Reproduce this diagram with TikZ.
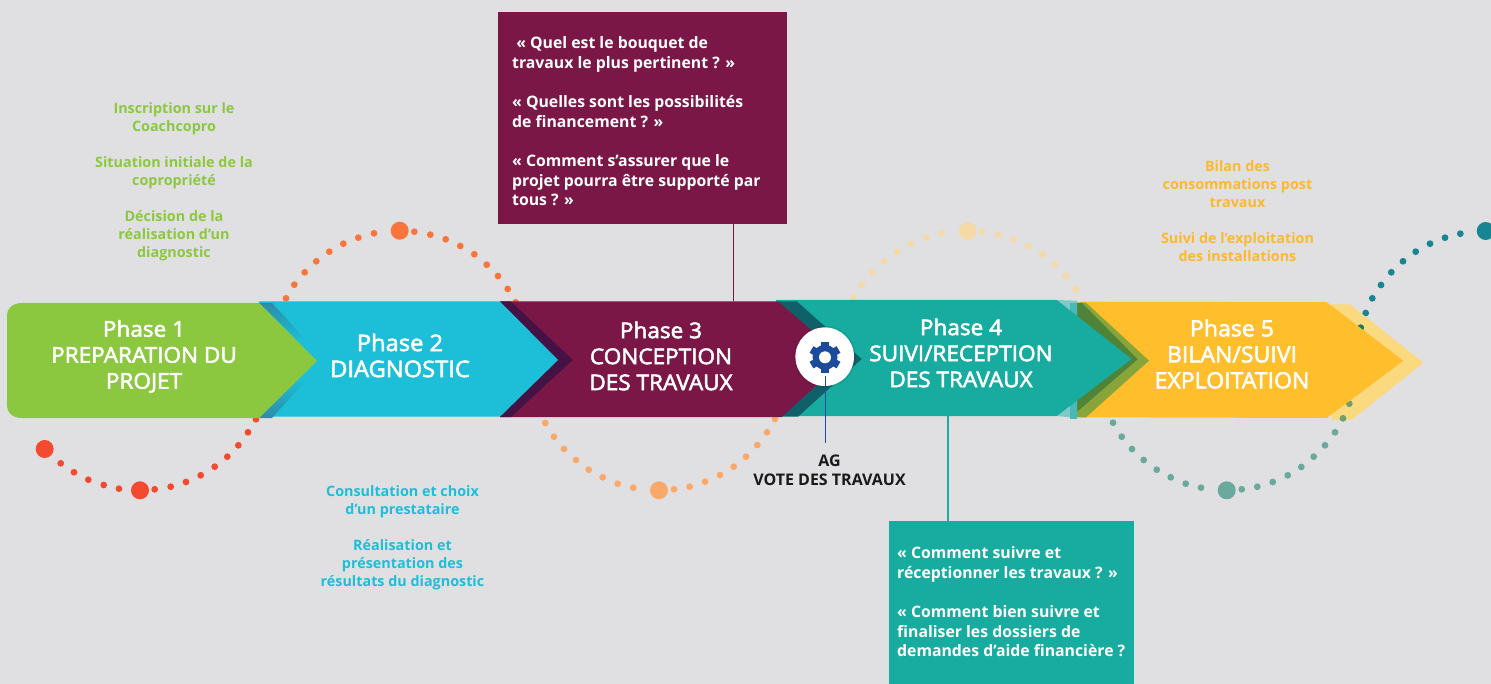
\documentclass[tikz,border=0pt]{standalone}
\usepackage{fontspec}
\setmainfont{Open Sans}
\newfontfamily\medi[FakeBold=2.5,FakeStretch=1.04]{Open Sans}
\definecolor{bgc}{HTML}{E0E0E2}
\definecolor{cgreen}{HTML}{8CC83F}
\definecolor{cblue}{HTML}{1CBED8}
\definecolor{cmaroon}{HTML}{7B1746}
\definecolor{cteal}{HTML}{17AC9F}
\definecolor{cyellow}{HTML}{FFBE2B}
\definecolor{cpale}{HTML}{FBD97F}
\definecolor{cpurple}{HTML}{451245}
\definecolor{cdteal}{HTML}{0F6068}
\definecolor{colive}{HTML}{87A53A}
\definecolor{cdgreen}{HTML}{4F8438}
\definecolor{cpteal}{HTML}{7CCBC6}
\definecolor{cmteal}{HTML}{4AB8B4}
\definecolor{cbshade}{HTML}{2E8BA6}
\definecolor{gearblue}{HTML}{1C4A9C}
\definecolor{dred}{HTML}{F44A2F}
\definecolor{dorange}{HTML}{FA753C}
\definecolor{dlorange}{HTML}{FBA96A}
\definecolor{dpale}{HTML}{F5D9A6}
\definecolor{dgrey}{HTML}{6AA99C}
\definecolor{dteal}{HTML}{178692}
\definecolor{tyellow}{HTML}{FBB92F}
\definecolor{dtintg}{HTML}{6F9F6C}
\definecolor{dtintt}{HTML}{0C7A6C}
\tikzset{
  phase/.style={text=white,align=center,inner sep=0pt,font=\medi\fontsize{21.7}{26}\selectfont},
  side/.style={align=center,inner sep=0pt,font=\bfseries\fontsize{14.35}{18}\selectfont},
  quest/.style={text=white,align=left,inner sep=0pt,anchor=west,font=\bfseries\fontsize{15.8}{19.6}\selectfont},
  qbox/.style={anchor=north west,inner sep=0pt,minimum width=#1},
}
\begin{document}
\begin{tikzpicture}[x=1pt,y=-1pt]
\useasboundingbox (0,0) rectangle (1491,684);
\fill[bgc] (0,0) rectangle (1491,684);
% dots
\foreach \x/\y in {60.7/463.3,74/472.3,88.3/479.7,103.7/485,119/488.7,154.7/489.3,170.7/486.7,186/482,200.7/475.3,214.7/466.7,227.3/456.7,238.3/445.3,248/432.3,256/419.3}
  \fill[dred] (\x,\y) circle[radius=3.4pt];
\fill[dred] (44.7,449) circle[radius=9pt] (140,490.3) circle[radius=9pt];
\foreach \x/\y in {286/298.3,294.3/284.7,304.7/272.3,316.3/261.3,329.3/251.7,343.3/243.7,358.3/237.7,374/233.3,414.3/231.7,430.3/234.7,445.7/239.3,460.3/246,474.3/254.3,486.7/264.7,498/276,507.7/289,515.7/302.3}
  \fill[dorange] (\x,\y) circle[radius=3.4pt];
\fill[dorange] (399.7,230.7) circle[radius=9pt];
\foreach \x/\y in {545.3/423,554/436.7,564/449,576/460,588.7/469.7,602.7/477.3,617.7/483.7,633.3/487.7,674/489.3,689.7/486.7,705/481.7,720/475,733.7/466.7,746/456.7,757.3/445,767/432.3,775/419}
  \fill[dlorange] (\x,\y) circle[radius=3.4pt];
\fill[dlorange] (659,490.3) circle[radius=9pt];
\foreach \x/\y in {853.3/297.7,862/284.7,872.3/272.3,884.3/261.3,897/251.7,911/243.7,926.3/237.7,941.7/233.3,982.3/231.7,998/234.7,1013.3/239.3,1028.3/246,1042/254.3,1054.7/264.7,1065.7/276,1075.7/289}
  \fill[dpale] (\x,\y) circle[radius=3.4pt];
\fill[dpale] (967.7,231) circle[radius=9pt];
\foreach \x/\y in {1113/422.7,1121.7/436.7,1132/449,1143.7/460,1156.7/469.7,1170.7/477.3,1185.7/483.7,1201/487.7,1241.7/489.3,1257.3/486.7,1272.7/482,1287.7/475.3,1301.3/467,1313.7/456.7,1325/445.3,1335/432.3}
  \fill[dgrey] (\x,\y) circle[radius=3.4pt];
\fill[dgrey] (1226.7,490.3) circle[radius=9pt];
\foreach \x/\y in {1365.7/313,1372.3/298.3,1381/285,1391.3/272.3,1403/261.3,1415.7/251.7,1430/243.7,1445/237.7,1460.3/233.7}
  \fill[dteal] (\x,\y) circle[radius=3.4pt];
\fill[dteal] (1485.7,231) circle[radius=9pt];
% phase 5 arrow
\fill[cpale] (1331.7,304.3) -- (1350,304.3) -- (1423.3,362.7) -- (1351.7,420) -- (1331.7,420) -- cycle;
\fill[dtintg] (1343,418.3) circle[radius=3.4pt] (1349.3,403.7) circle[radius=3.4pt];
\fill[dtintt] (1360.7,327.7) circle[radius=3.4pt];
\fill[cyellow] (1080,301.7) -- (1326.7,302.2) -- (1403.3,360.7) -- (1326.7,418) -- (1080,417.3) -- cycle;
\fill[colive] (1077,302.7) -- (1086,302.7) -- (1149,360.7) -- (1086,417.3) -- (1077,417.3) -- cycle;
\fill[cdgreen] (1077,303) -- (1082,303) -- (1137.7,359.3) -- (1077,411.7) -- cycle;
% phase 4 arrow
\fill[cpteal] (1056.7,300) -- (1077,300.7) -- (1077,418) -- (1056.7,416) -- cycle;
\fill[cmteal] (1070,303) -- (1077,303) -- (1077,418.5) -- (1070,418.5) -- cycle;
\fill[cteal] (776,300) -- (1056.7,300) -- (1131.7,359) -- (1056.7,416) -- (776,416) -- cycle;
\fill[cdteal] (778,301.5) -- (797,301.5) -- (861.7,359) -- (798,416.7) -- (781.7,416.7) -- cycle;
% phase 3 arrow
\fill[cmaroon] (500,301.5) -- (778,301.5) -- (845,359) -- (781.7,417) -- (500,417) -- cycle;
\fill[cpurple] (500,301.5) -- (511,301.5) -- (572.7,360) -- (511,417) -- (500,417) -- cycle;
% phase 2 arrow
\fill[cblue] (259,301.5) -- (500,301.5) -- (558,360) -- (500,416.7) -- (259,416.7) -- cycle;
\shade[top color=cbshade,bottom color=cblue] (259,303) -- (272,303) -- (306,340) -- (298,340) -- cycle;
\shade[top color=cblue,bottom color=cbshade] (298,380) -- (306,380) -- (272,418) -- (259,418) -- cycle;
% phase 1 arrow
\fill[cgreen] (22,303) -- (259,303) -- (317,361) -- (259,418) -- (22,418) .. controls (12,418) and (7,412) .. (7,406) -- (7,315) .. controls (7,309) and (12,303) .. (22,303) -- cycle;
% text
\node[phase] (ph1) at (144,356.5) {Phase 1\\PREPARATION DU\\PROJET};
\node[phase,font=\medi\fontsize{22.8}{26}\selectfont] (ph2) at (400,355.5) {Phase 2\\DIAGNOSTIC};
\node[phase] (ph3) at (661,356) {Phase 3\\CONCEPTION\\DES TRAVAUX};
\node[phase] (ph4) at (961,353) {Phase 4\\SUIVI/RECEPTION\\DES TRAVAUX};
\node[phase,font=\medi\fontsize{22.2}{26}\selectfont] (ph5) at (1232,354) {Phase 5\\BILAN/SUIVI\\EXPLOITATION};
\node[side,text=cgreen] (tgreen) at (174,182) {Inscription sur le\\Coachcopro\\[18pt]Situation initiale de la\\copropriété\\[18pt]Décision de la\\réalisation d’un\\diagnostic};
\node[side,text=cblue] (tblue) at (402.5,537.5) {Consultation et choix\\d’un prestataire\\[18pt]Réalisation et\\présentation des\\résultats du diagnostic};
\node[side,text=tyellow] (tyellow) at (1237.5,211.5) {Bilan des\\consommations post\\travaux\\[18pt]Suivi de l’exploitation\\des installations};
% question boxes
\node[qbox=289pt,minimum height=212pt,fill=cmaroon] (mbox) at (498,12) {};
\node[qbox=245pt,minimum height=163pt,fill=cteal] (tbox) at (889,521) {};
\node[quest] (mtext) at (512,121.5) {\ « Quel est le bouquet de\\travaux le plus pertinent ? »\\[19.6pt]« Quelles sont les possibilités\\de financement ? »\\[19.6pt]« Comment s’assurer que le\\projet pourra être supporté par\\tous ? »};
\node[quest] (ttext) at (897,602) {« Comment suivre et\\réceptionner les travaux ? »\\[19.6pt]« Comment bien suivre et\\finaliser les dossiers de\\demandes d’aide financière ?};
% connectors
\coordinate (p3top) at (733.5,301.5);
\coordinate (p4bot) at (948,416);
\draw[cmaroon,line width=1.2pt] (mbox.south -| p3top) -- (p3top);
\draw[cteal,line width=1.4pt] (p4bot) -- (p4bot |- tbox.north);
% gear
\fill[black,opacity=.07] (824.7,357) circle[radius=31pt];
\node[circle,fill=white,minimum size=58.6pt,inner sep=0pt] (gear) at (824.7,356.7) {};
\fill[gearblue] (825,357.3) circle[radius=12.5pt];
\foreach \a in {30,90,...,330}
  \draw[gearblue,line width=7.6pt] (825,357.3) -- ++(\a:15.6);
\fill[white] (825,357.3) circle[radius=6pt];
\node[side,text=black!90,font=\bfseries\fontsize{16}{19}\selectfont] (ag) at (829.5,470.5) {AG\\VOTE DES TRAVAUX};
\coordinate (gline) at (825.3,376);
\draw[gearblue,line width=1pt] (gline) -- (gline |- 0,442.7);
\end{tikzpicture}
\end{document}
